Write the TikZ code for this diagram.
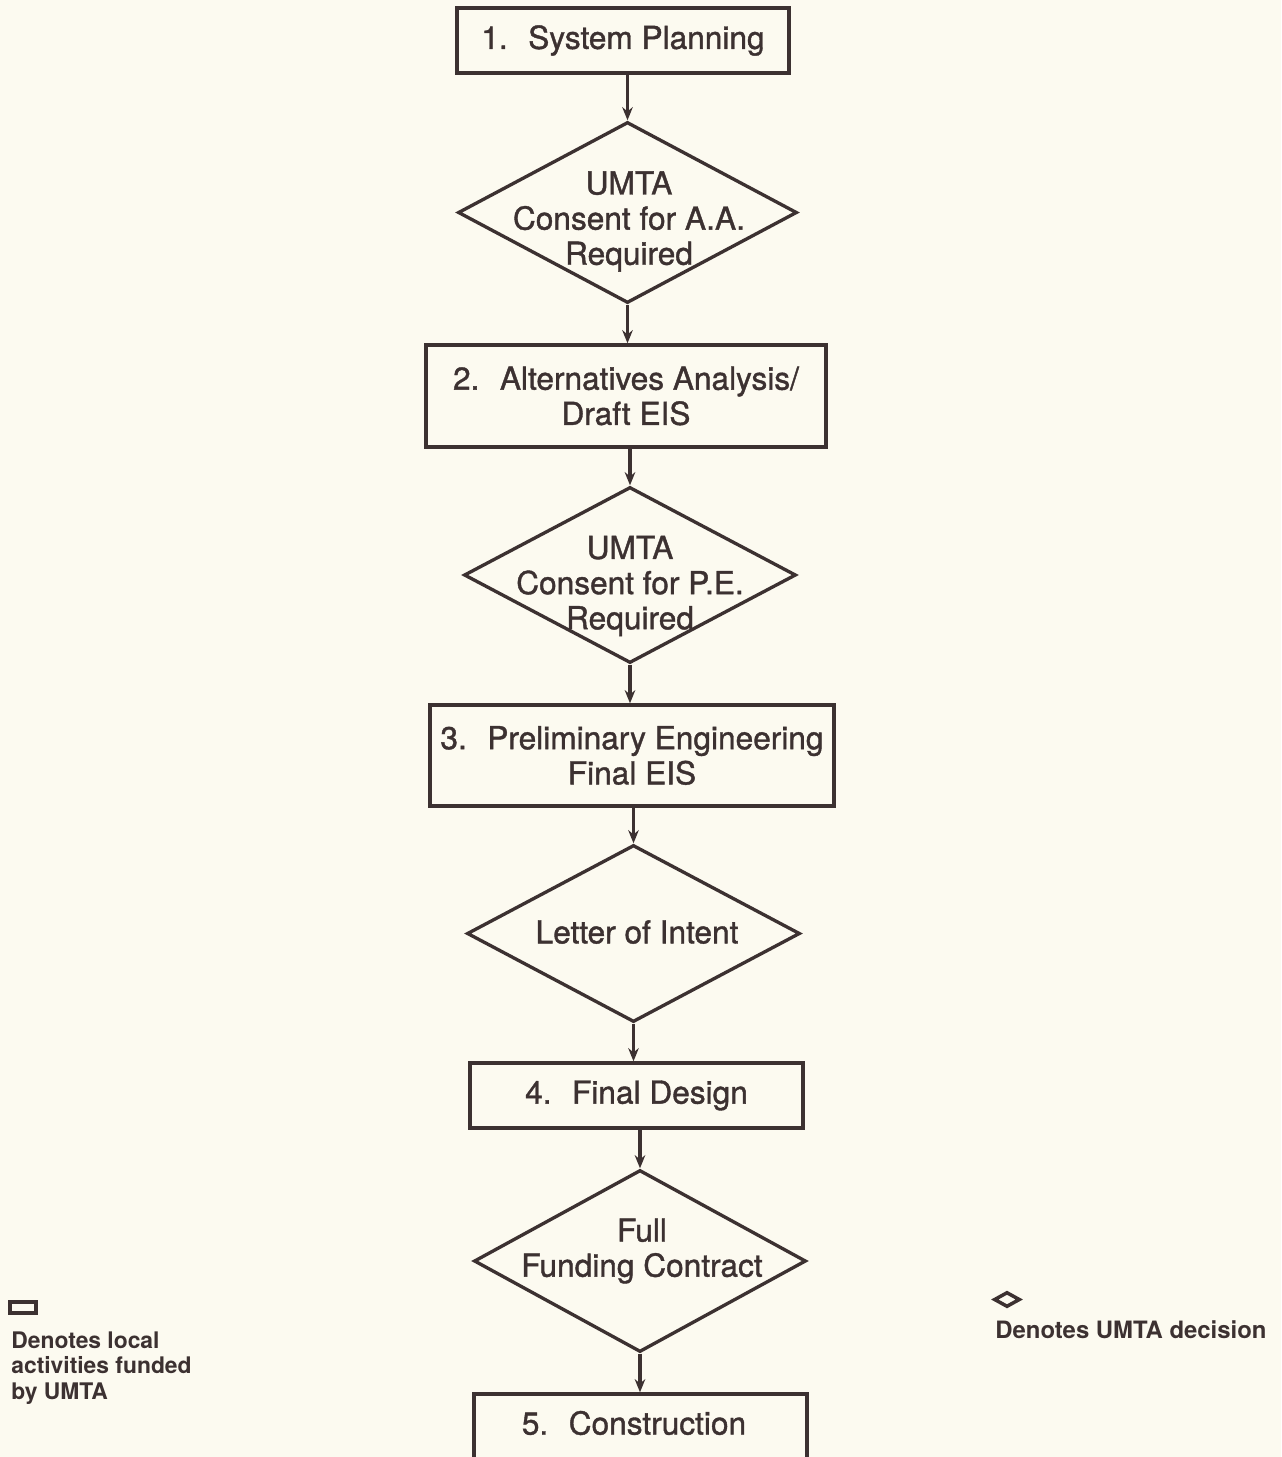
\documentclass[tikz,border=0pt]{standalone}
\usepackage{fontspec}
\setmainfont{TeX Gyre Heros}
\newfontfamily\medfont[FakeBold=1.2]{TeX Gyre Heros}
\usetikzlibrary{shapes.geometric,arrows.meta}
\definecolor{ink}{HTML}{3C3131}
\definecolor{paper}{HTML}{FCFAF0}
\begin{document}
\begin{tikzpicture}[y=-1cm,
  activity/.style={draw=ink, line width=1.9pt, rectangle, inner sep=0pt, text=ink,
    align=center, font=\medfont\fontsize{18}{20}\selectfont},
  decision/.style={draw=ink, line width=1.9pt, diamond, inner sep=0pt},
  decisiontext/.style={inner sep=0pt, text=ink, align=center, font=\medfont\fontsize{18}{20}\selectfont},
  keytext/.style={inner sep=0pt, text=ink, font=\bfseries\fontsize{13}{14.7}\selectfont},
  flow/.style={draw=ink, line width=1.8pt, -{Stealth[length=7.5pt,width=6pt]}}]
\fill[paper] (0,0) rectangle (25.62,29.14);
\useasboundingbox (0,0) rectangle (25.62,29.14);
% steps and decisions
\node[activity, minimum width=6.64cm, minimum height=1.30cm] (b1) at (12.46,0.81) {1.~ System Planning};
\node[decision, minimum width=6.78cm, minimum height=3.62cm] (d1) at (12.55,4.25) {};
\node[decisiontext] (d1t) at (12.58,4.43) {UMTA\\Consent for A.A.\\Required};
\node[activity, minimum width=8.00cm, minimum height=2.04cm] (b2) at (12.52,7.92) {2.~ Alternatives Analysis/\\Draft EIS};
\node[decision, minimum width=6.64cm, minimum height=3.52cm] (d2) at (12.60,11.50) {};
\node[decisiontext] (d2t) at (12.60,11.72) {UMTA\\Consent for P.E.\\Required};
\node[activity, minimum width=8.08cm, minimum height=2.02cm] (b3) at (12.64,15.11) {3.~ Preliminary Engineering\\Final EIS};
\node[decision, minimum width=6.66cm, minimum height=3.54cm] (d3) at (12.67,18.67) {};
\node[decisiontext] (d3t) at (12.74,18.64) {Letter of Intent};
\node[activity, minimum width=6.66cm, minimum height=1.30cm] (b4) at (12.73,21.91) {4.~ Final Design};
\node[decision, minimum width=6.64cm, minimum height=3.64cm] (d4) at (12.80,25.22) {};
\node[decisiontext] (d4t) at (12.84,25.02) {Full\\Funding Contract};
\node[activity, minimum width=6.66cm, minimum height=1.40cm] (b5) at (12.81,28.58) {};
\node[decisiontext] (b5t) at (12.68,28.46) {5.~ Construction};
% connectors
\draw[flow] (d1.north |- b1.south) -- (d1.north);
\draw[flow] (d1.south) -- (d1.south |- b2.north);
\draw[flow] (d2.north |- b2.south) -- (d2.north);
\draw[flow] (d2.south) -- (d2.south |- b3.north);
\draw[flow] (d3.north |- b3.south) -- (d3.north);
\draw[flow] (d3.south) -- (d3.south |- b4.north);
\draw[flow] (d4.north |- b4.south) -- (d4.north);
\draw[flow] (d4.south) -- (d4.south |- b5.north);
% key
\node[activity, minimum width=0.52cm, minimum height=0.22cm, line width=2pt] (keybox) at (0.46,26.15) {};
\node[keytext, anchor=north west, align=left] (keyboxtext) at (0.22,26.62) {Denotes local\\activities funded\\by UMTA};
\node[decision, minimum width=0.52cm, minimum height=0.30cm, line width=2pt] (keydiamond) at (20.14,25.99) {};
\node[keytext, anchor=base west, font=\bfseries\fontsize{13.6}{15}\selectfont] (keydiamondtext) at (19.90,26.76) {Denotes UMTA decision};
\end{tikzpicture}
\end{document}
